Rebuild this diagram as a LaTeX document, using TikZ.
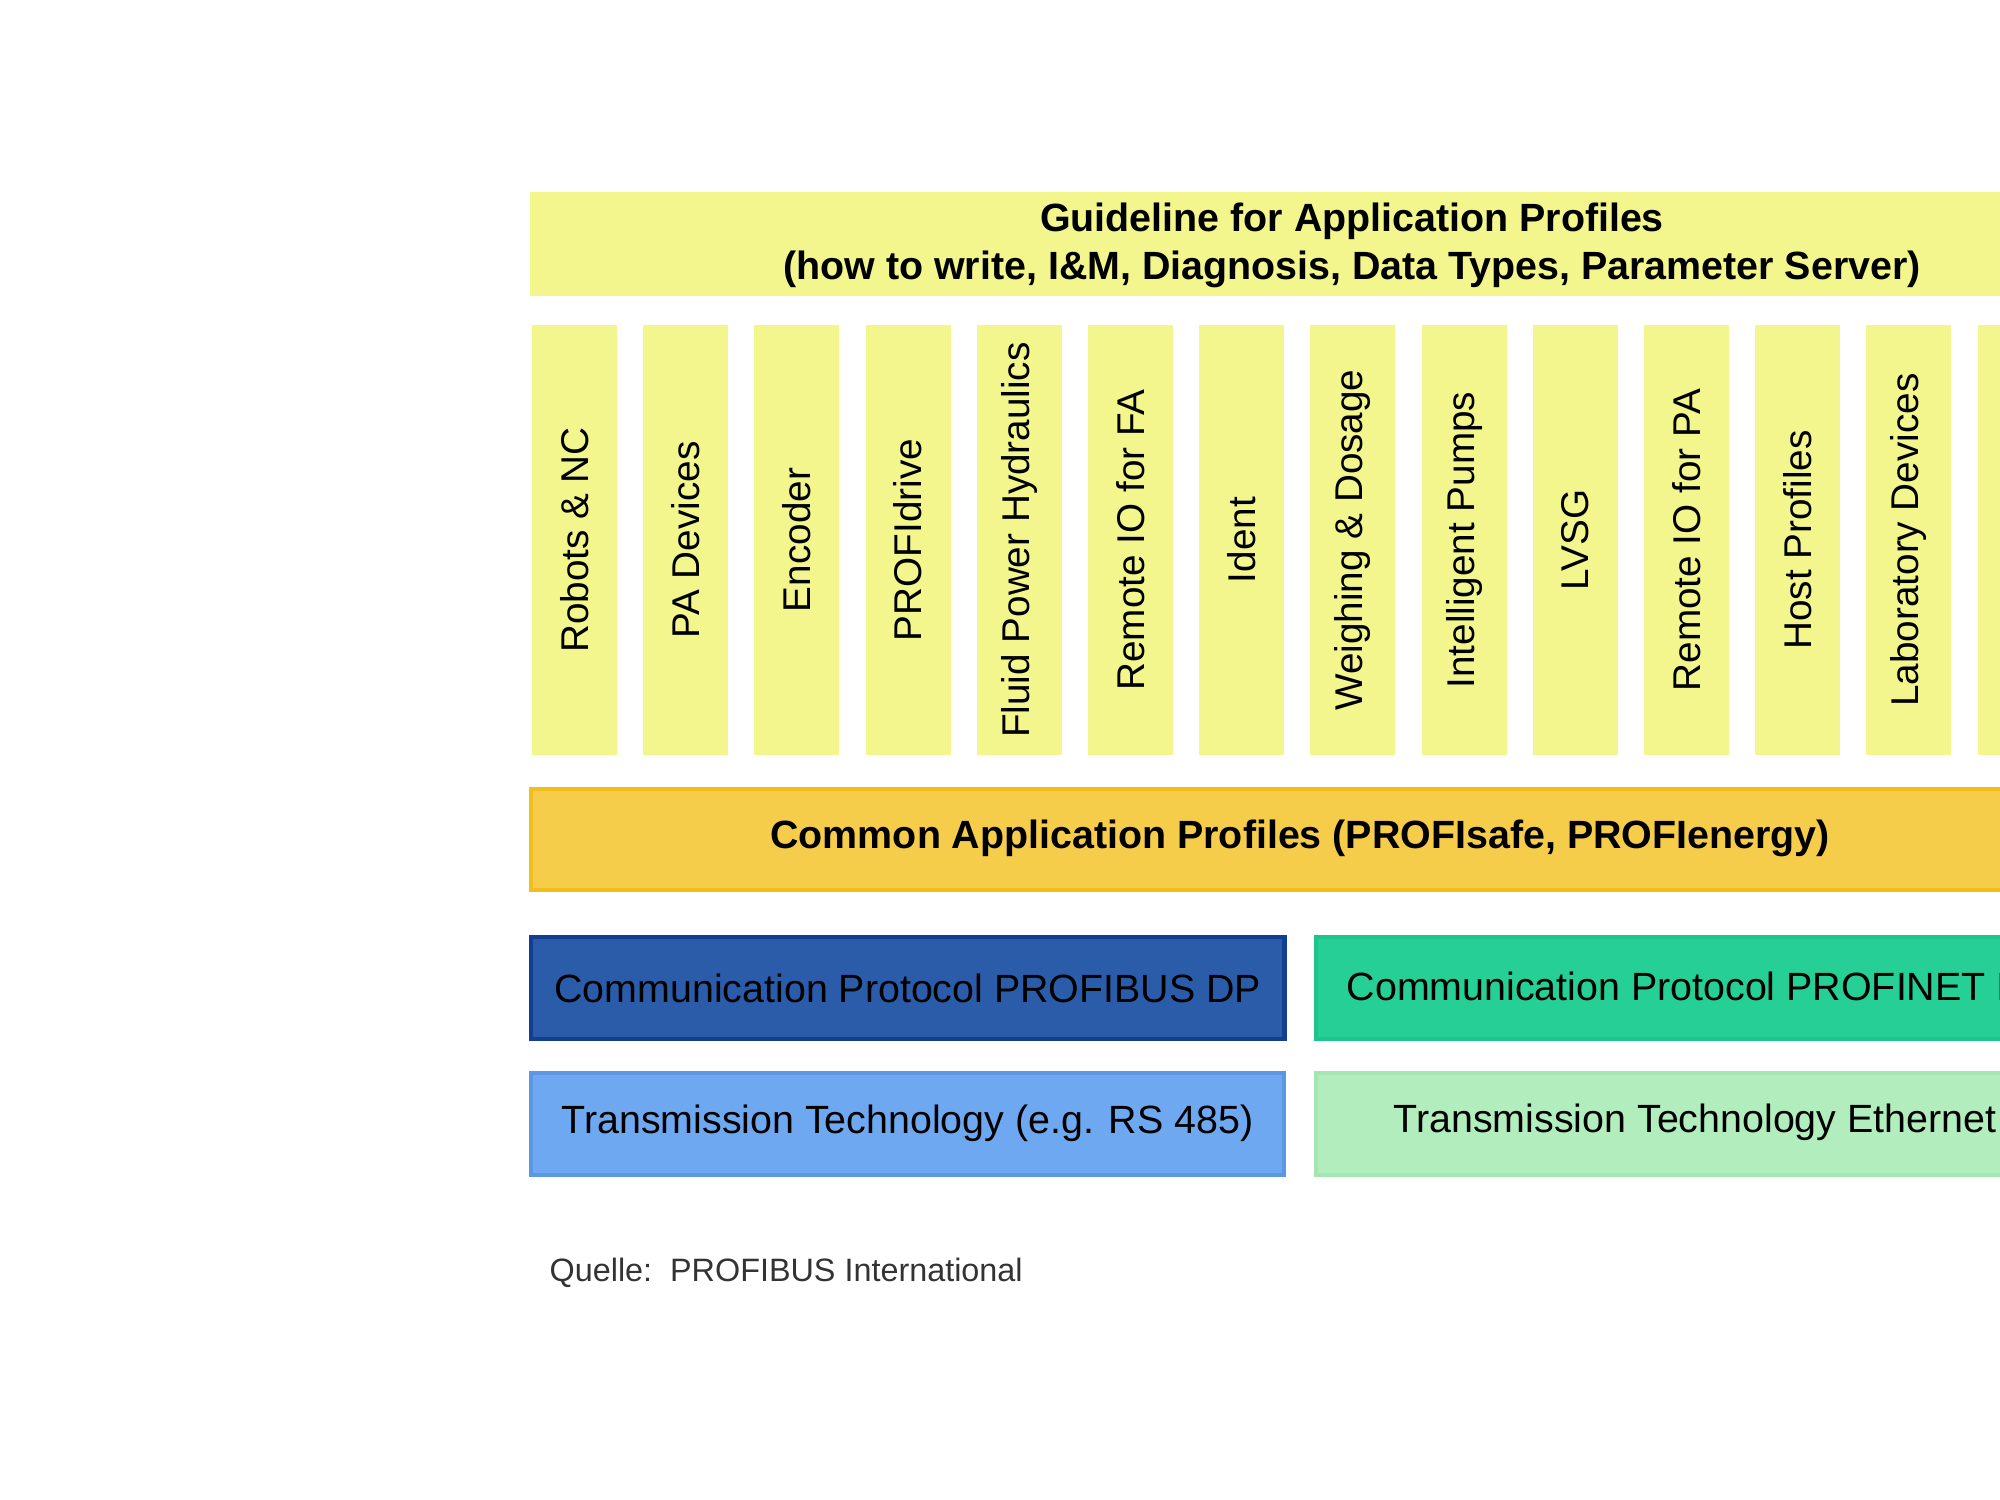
\documentclass[tikz,border=0pt]{standalone}
\usepackage{fontspec}
\setmainfont{Liberation Sans}
\definecolor{paleY}{HTML}{F2F68C}
\definecolor{orangeF}{HTML}{F6CD4A}
\definecolor{orangeD}{HTML}{F2BE1C}
\definecolor{dblueF}{HTML}{2A5CAA}
\definecolor{dblueD}{HTML}{123F91}
\definecolor{lblueF}{HTML}{6DA8F0}
\definecolor{lblueD}{HTML}{5B97E2}
\definecolor{greenF}{HTML}{25CF95}
\definecolor{greenD}{HTML}{1EC58A}
\definecolor{lgreenF}{HTML}{B2EDBE}
\definecolor{lgreenD}{HTML}{A4E6B2}
\tikzset{
  band/.style={rectangle, inner sep=0pt, anchor=north west},
  colbox/.style={rectangle, inner sep=0pt, fill=paleY, minimum width=8.5mm, minimum height=43mm},
  coltext/.style={rotate=90, font=\fontsize{11}{13}\selectfont, text=black},
  boldtext/.style={font=\fontsize{11.2}{13.6}\selectfont\bfseries, text=black, align=center},
  regtext/.style={font=\fontsize{11.2}{14}\selectfont, text=black}
}
\begin{document}
\begin{tikzpicture}[x=0.01cm, y=-0.01cm]
\useasboundingbox (0,0) rectangle (2000,1500);
\fill[white] (0,0) rectangle (2000,1500);
\clip (0,0) rectangle (2000,1500);
% top guideline band
\node[band, fill=paleY, minimum width=157.1mm, minimum height=10.4mm] (guide) at (529,191) {};
\node[boldtext] (guidetxt) at (1352,245) {Guideline for Application Profiles\\(how to write, I\&M, Diagnosis, Data Types, Parameter Server)};
% columns
\foreach \i/\t in {0/Robots \& NC,1/PA Devices,2/Encoder,3/PROFIdrive,4/Fluid Power Hydraulics,5/Remote IO for FA,6/Ident,7/Weighing \& Dosage,8/Intelligent Pumps,9/LVSG,10/Remote IO for PA,11/Host Profiles,12/Laboratory Devices}{
  \node[colbox] (c\i) at ({574.5+\i*111.2},540) {};
  \node[coltext] (ct\i) at (c\i.center) {\t};
}
\node[colbox] (c13) at ({574.5+13*111.2},540) {};
% common application profiles
\node[band, fill=orangeF, draw=orangeD, line width=1.2pt, minimum width=157.1mm, minimum height=10.1mm] (common) at (529,787) {};
\node[boldtext] (commontxt) at (1300,838) {Common Application Profiles (PROFIsafe, PROFIenergy)};
% communication protocols
\node[band, fill=dblueF, draw=dblueD, line width=1.2pt, minimum width=75.3mm, minimum height=10.2mm] (cdp) at (529,935) {};
\node[regtext] (cdptxt) at (cdp.center) {Communication Protocol PROFIBUS DP};
\node[band, fill=greenF, draw=greenD, line width=1pt, minimum width=80mm, minimum height=10.2mm] (cpn) at (1314,935) {};
\node[regtext, anchor=west, inner sep=0pt] (cpntxt) at (1346,986) {Communication Protocol PROFINET IO};
% transmission technology
\node[band, fill=lblueF, draw=lblueD, line width=1pt, minimum width=75.3mm, minimum height=10.2mm] (trs) at (529,1071) {};
\node[regtext] (trstxt) at (trs.center) {Transmission Technology (e.g. RS 485)};
\node[band, fill=lgreenF, draw=lgreenD, line width=1pt, minimum width=80mm, minimum height=10.2mm] (teth) at (1314,1071) {};
\node[regtext, anchor=west, inner sep=0pt] (tethtxt) at (1393,1122) {Transmission Technology Ethernet};
% source
\node[anchor=west, inner sep=0pt, font=\fontsize{9.2}{11}\selectfont, text=black!80] (src) at (549,1273) {Quelle:\ \ PROFIBUS International};
\end{tikzpicture}
\end{document}
